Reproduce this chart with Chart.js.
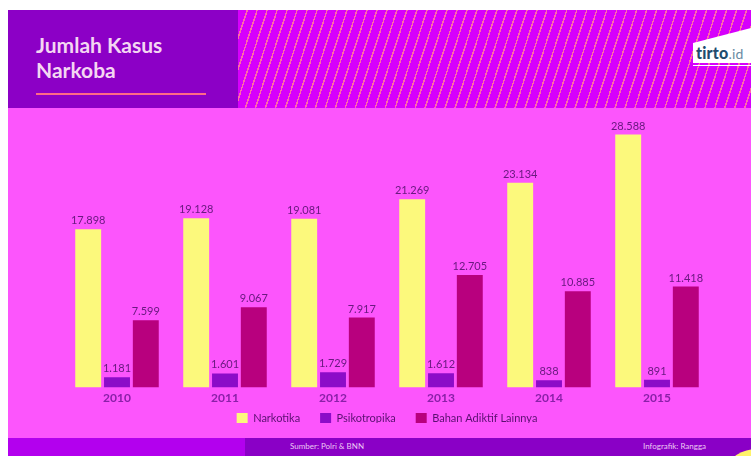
<!DOCTYPE html>
<html>
<head>
<meta charset="utf-8">
<script src="https://cdn.jsdelivr.net/npm/chart.js@4/dist/chart.umd.min.js"></script>
<style>
  html, body { margin: 0; padding: 0; background: #fff; }
  body { width: 751px; height: 456px; position: relative; overflow: hidden; font-family: Lato, "Open Sans", sans-serif; }
  .header { position: absolute; left: 8px; top: 10px; width: 230px; height: 98px; background: #8c00c6; }
  .hatch { position: absolute; left: 238px; top: 10px; width: 513px; height: 98px; background-color: #d600fc;
    background-image: repeating-linear-gradient(108deg, transparent 0 8px, #ff6aa8 8px 9.5px); }
  .title { position: absolute; left: 36px; top: 32px; color: #f4d6f2; font-weight: bold; font-size: 21px; line-height: 25px; }
  .rule { position: absolute; left: 36px; top: 93px; width: 170px; height: 2px; background: #ff6a86; }
  .logo { position: absolute; left: 693px; top: 28px; width: 58px; height: 35px; background: #fff;
    clip-path: polygon(0 15px, 58px 0, 58px 35px, 0 35px); }
  .logo span { position: absolute; left: 3px; top: 15px; font-size: 16px; font-weight: 900; color: #214c6e; letter-spacing: 0.2px; }
  .logo i { font-style: normal; font-weight: normal; color: #6a8aa2; font-size: 14px; }
  .logoline { position: absolute; left: 693px; top: 65px; width: 58px; height: 1px; background: #fff; }
  .main { position: absolute; left: 8px; top: 108px; width: 743px; height: 330px; background: #fc55fc; }
  .foot1 { position: absolute; left: 8px; top: 438px; width: 237px; height: 18px; background: #b300ee; }
  .foot2 { position: absolute; left: 245px; top: 438px; width: 506px; height: 18px; background: #8a00c6; }
  .foot { position: absolute; top: 441px; font-size: 8px; color: #ecc8f4; }
  .blob { position: absolute; left: 728px; top: 449px; width: 60px; height: 40px; border-radius: 50%; background: #fff36a; }
  #chart { position: absolute; left: 8px; top: 108px; }
</style>
</head>
<body>
<div class="header"></div>
<div class="hatch"></div>
<div class="title">Jumlah Kasus<br>Narkoba</div>
<div class="rule"></div>
<div class="logo"><span>tirto<i>.id</i></span></div>
<div class="logoline"></div>
<div class="main"></div>
<div class="foot1"></div>
<div class="foot2"></div>
<div class="foot" style="left:290px">Sumber: Polri &amp; BNN</div>
<div class="foot" style="left:643px">Infografik: Rangga</div>
<div class="blob"></div>
<canvas id="chart" width="743" height="330"></canvas>
<script>
// Data
const years = ['2010', '2011', '2012', '2013', '2014', '2015'];
const narkotika = [17898, 19128, 19081, 21269, 23134, 28588];
const psikotropika = [1181, 1601, 1729, 1612, 838, 891];
const bahanAdiktif = [7599, 9067, 7917, 12705, 10885, 11418];
const seriesNames = ['Narkotika', 'Psikotropika', 'Bahan Adiktif Lainnya'];

// Indonesian style thousands separator
function formatValue(v) {
    return String(v).replace(/\B(?=(\d{3})+(?!\d))/g, '.');
}

// Draws the number above each bar
const valueLabels = {
    id: 'valueLabels',
    afterDatasetsDraw(chart) {
        const ctx = chart.ctx;
        ctx.save();
        ctx.font = '11px Lato';
        ctx.fillStyle = '#6a1a80';
        ctx.textAlign = 'center';
        ctx.textBaseline = 'bottom';
        chart.data.datasets.forEach((ds, i) => {
            chart.getDatasetMeta(i).data.forEach((bar, j) => {
                ctx.fillText(formatValue(ds.data[j]), bar.x, bar.y - 3);
            });
        });
        ctx.restore();
    }
};

// Legend padding is wide between items, but the legend sits tight under the years
const legendTighten = {
    id: 'legendTighten',
    beforeInit(chart) {
        const fit = chart.legend.fit;
        chart.legend.fit = function () {
            fit.call(this);
            this.height -= 11;
        };
    },
    afterLayout(chart) {
        chart.legend.top -= 15;
        chart.legend.bottom -= 15;
    }
};

const ctx = document.getElementById('chart').getContext('2d');
var myChart = new Chart(ctx, {
    type: 'bar',
    data: {
        labels: years,
        datasets: [
            { label: seriesNames[0], data: narkotika, backgroundColor: '#fcf97c' },
            { label: seriesNames[1], data: psikotropika, backgroundColor: '#8c0cc8' },
            { label: seriesNames[2], data: bahanAdiktif, backgroundColor: '#b8007e' }
        ]
    },
    options: {
        responsive: false,
        animation: false,
        layout: { padding: { left: 55, right: 40, top: 14, bottom: 0 } },
        datasets: { bar: { categoryPercentage: 0.8, barPercentage: 0.9 } },
        scales: {
            x: {
                grid: { display: false, drawTicks: false },
                border: { display: false },
                ticks: { color: '#8a20a8', font: { family: 'Lato', size: 12, weight: 'bold' }, padding: 3 }
            },
            y: { display: false, min: 0, max: 30000 }
        },
        plugins: {
            legend: {
                position: 'bottom',
                labels: {
                    boxWidth: 11, boxHeight: 11, padding: 20,
                    color: '#5a1070',
                    font: { family: 'Lato', size: 11 }
                }
            },
            tooltip: { enabled: false }
        }
    },
    plugins: [valueLabels, legendTighten]
});
</script>
</body>
</html>
